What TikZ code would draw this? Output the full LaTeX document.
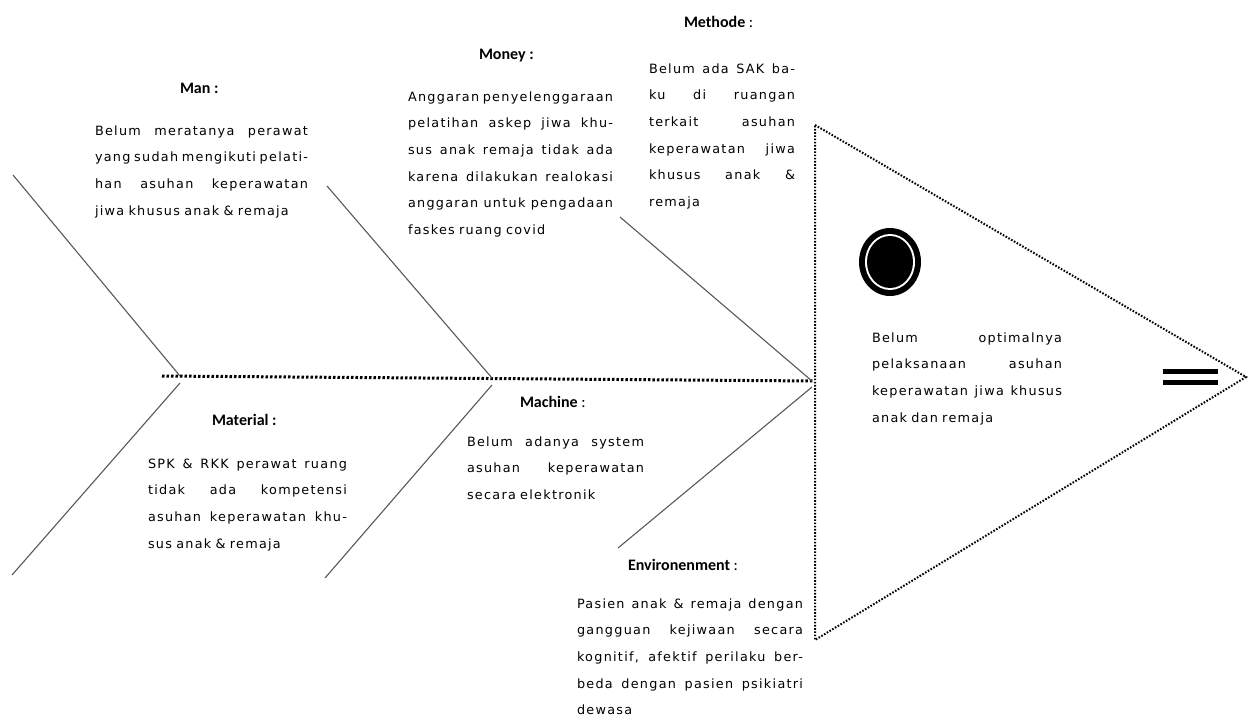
\documentclass[tikz,border=0pt]{standalone}
\usepackage{fontspec}
\setmainfont{DejaVu Sans}[LetterSpace=10]
\newfontfamily\hdrfont{Carlito}
\newcommand\jw{100pt}
\newcommand\jline[1]{\leavevmode\hbox to \jw{\spaceskip=\fontdimen2\font plus 1fil minus 0.15em\xspaceskip=\spaceskip #1}}
\begin{document}
\begin{tikzpicture}[x=1pt,y=-1pt,
  txt/.style={anchor=base west, inner sep=0pt, outer sep=0pt, text width=#1, align=left,
    font=\fontsize{12.8}{26.7}\selectfont, execute at begin node={\renewcommand\jw{#1}}},
  hdr/.style={anchor=base west, inner sep=0pt, outer sep=0pt, font=\hdrfont\fontsize{16}{18}\selectfont},
  bone/.style={draw=black!65, line width=1.1pt},
  spine/.style={draw=black, line width=3pt, dash pattern=on 2.5pt off 2pt},
  headline/.style={draw=black, line width=2pt, dash pattern=on 1.6pt off 1.6pt}]
\useasboundingbox (0,0) rectangle (1248,723);
\fill[white] (0,0) rectangle (1248,723);
% spine and head
\coordinate (tail) at (162,376);
\coordinate (mouth) at (814,381);
\coordinate (htop) at (815,125);
\coordinate (hapex) at (1246,377);
\coordinate (hbot) at (815,640);
\draw[headline] (htop) -- (hapex) -- (hbot) -- cycle;
\draw[spine] (tail) -- (mouth);
% bones
\coordinate (j1) at (180,376);
\coordinate (j2) at (492,378);
\coordinate (j3) at (812,381);
\coordinate (manS) at (13,175);
\coordinate (monS) at (327,186);
\coordinate (metS) at (620,217);
\coordinate (matS) at (12,575);
\coordinate (macS) at (325,578);
\coordinate (envS) at (618,548);
\draw[bone] (manS) -- (j1);
\draw[bone] (monS) -- (j2);
\draw[bone] (metS) -- (j3);
\draw[bone] (matS) -- (180,383);
\draw[bone] (macS) -- (492,385);
\draw[bone] (envS) -- (812,387);
% headers
\node[hdr] (hman) at (180,93) {\textbf{Man :}};
\node[hdr] (hmon) at (479,59) {\textbf{Money :}};
\node[hdr] (hmet) at (684,27) {\textbf{Methode} :};
\node[hdr] (hmat) at (212,425) {\textbf{Material :}};
\node[hdr] (hmac) at (520,407) {\textbf{Machine} :};
\node[hdr] (henv) at (628,570) {\textbf{Environenment} :};
% texts
\node[txt=213pt] (tman) at (95,135) {\jline{Belum meratanya perawat}\\\jline{yang sudah mengikuti pelati-}\\\jline{han asuhan keperawatan}\\jiwa khusus anak \& remaja};
\node[txt=205pt] (tmon) at (408,101) {\jline{Anggaran penyelenggaraan}\\\jline{pelatihan askep jiwa khu-}\\\jline{sus anak remaja tidak ada}\\\jline{karena dilakukan realokasi}\\\jline{anggaran untuk pengadaan}\\faskes ruang covid};
\node[txt=146pt] (tmet) at (649,73) {\jline{Belum ada SAK ba-}\\\jline{ku di ruangan}\\\jline{terkait asuhan}\\\jline{keperawatan jiwa}\\\jline{khusus anak \&}\\remaja};
\node[txt=199pt] (tmat) at (148,468) {\jline{SPK \& RKK perawat ruang}\\\jline{tidak ada kompetensi}\\\jline{asuhan keperawatan khu-}\\sus anak \& remaja};
\node[txt=177pt] (tmac) at (467,446) {\jline{Belum adanya system}\\\jline{asuhan keperawatan}\\secara elektronik};
\node[txt=226pt] (tenv) at (577,608) {\jline{Pasien anak \& remaja dengan}\\\jline{gangguan kejiwaan secara}\\\jline{kognitif, afektif perilaku ber-}\\\jline{beda dengan pasien psikiatri}\\dewasa};
\node[txt=190pt] (thead) at (872,342) {\jline{Belum optimalnya}\\\jline{pelaksanaan asuhan}\\\jline{keperawatan jiwa khusus}\\anak dan remaja};
% eye
\fill[black] (890,262) ellipse [x radius=31, y radius=34];
\fill[white] (890,262) ellipse [x radius=25, y radius=28];
\fill[black] (890,262) ellipse [x radius=23, y radius=26];
% gill bars
\fill[black] (1163,368.5) rectangle (1218,373.5);
\fill[black] (1163,379.5) rectangle (1218,384.5);
\end{tikzpicture}
\end{document}
